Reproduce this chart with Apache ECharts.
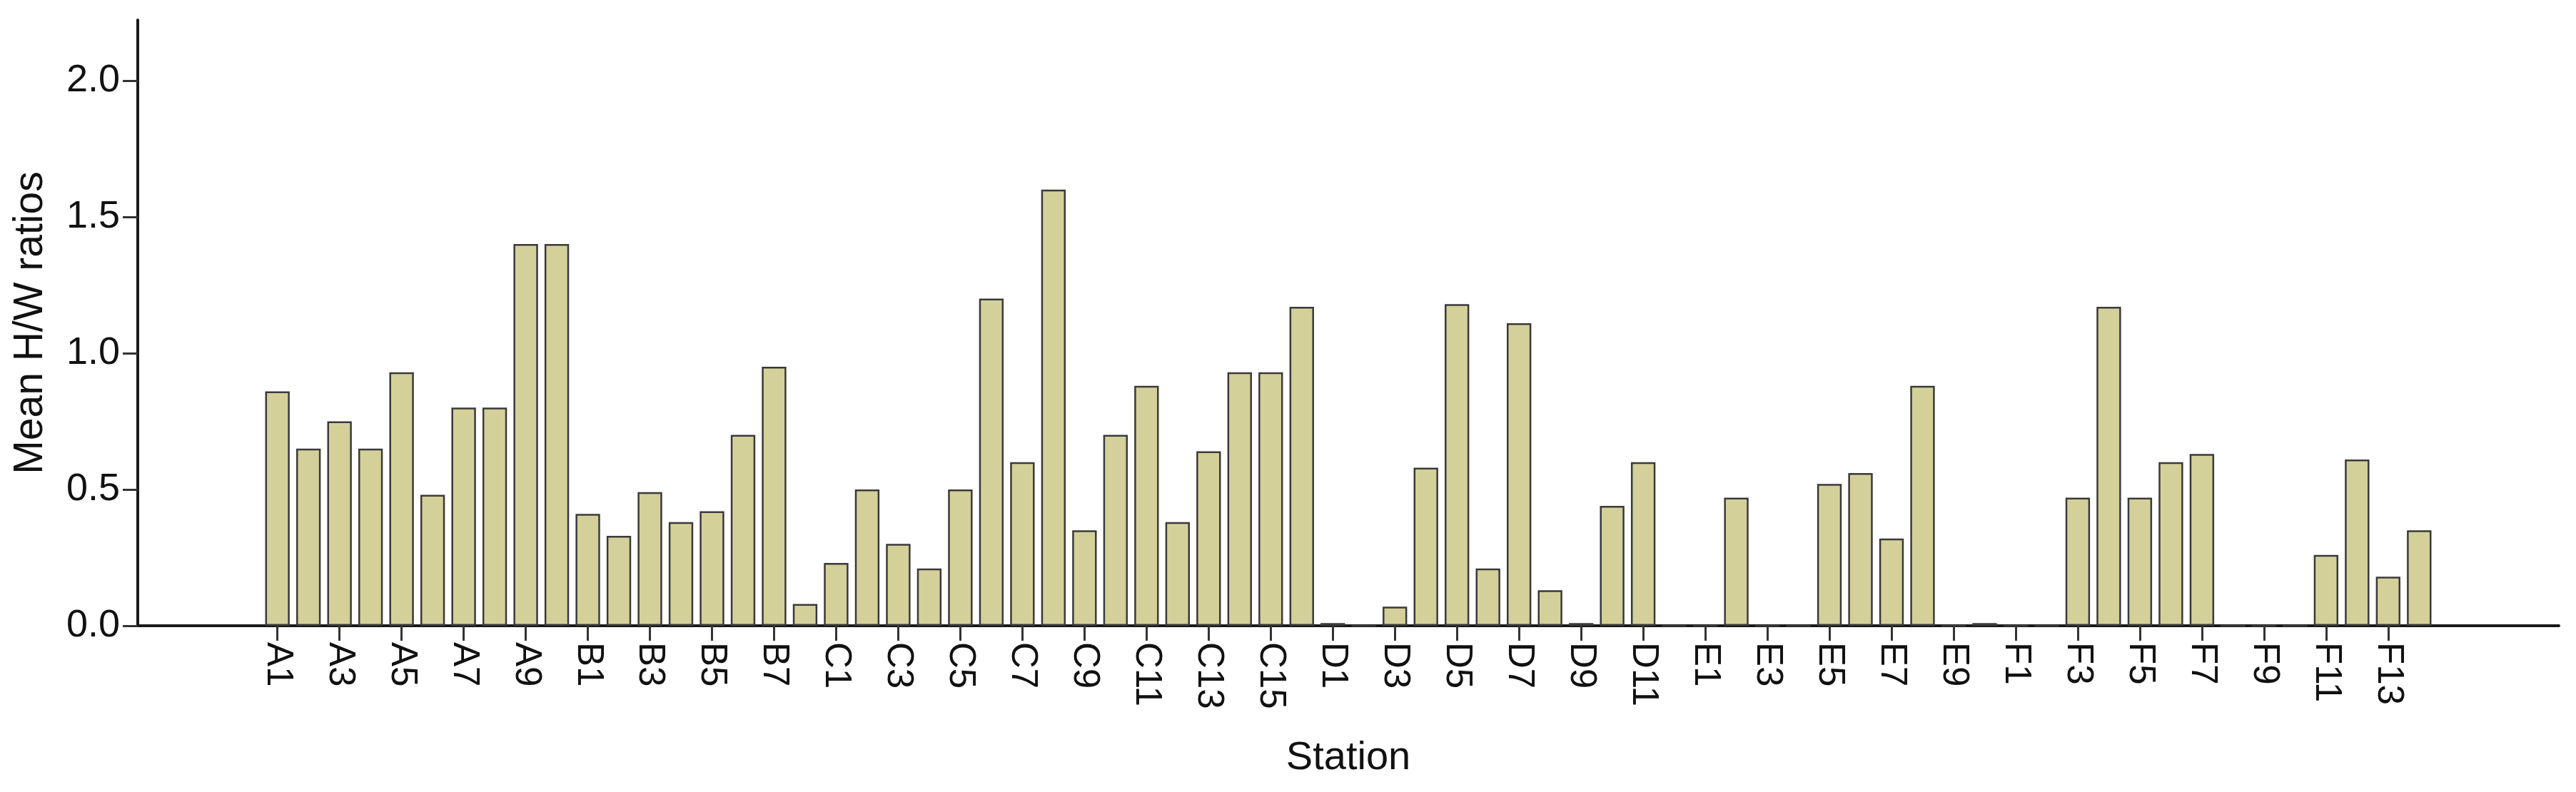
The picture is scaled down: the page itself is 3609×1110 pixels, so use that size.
<!DOCTYPE html>
<html>
<head>
<meta charset="utf-8">
<script src="https://cdn.jsdelivr.net/npm/echarts@6/dist/echarts.min.js"></script>
<style>
  html, body { margin: 0; padding: 0; background: #ffffff; }
  #chart { width: 3609px; height: 1110px; }
</style>
</head>
<body>
<div id="chart"></div>
<script>
// Station categories
const stationsA = ['A1','A2','A3','A4','A5','A6','A7','A8','A9','A10'];
const stationsB = ['B1','B2','B3','B4','B5','B6','B7','B8'];
const stationsC = ['C1','C2','C3','C4','C5','C6','C7','C8','C9','C10','C11','C12','C13','C14','C15','C16'];
const stationsD = ['D1','D2','D3','D4','D5','D6','D7','D8','D9','D10','D11','D12'];
const stationsE = ['E1','E2','E3','E4','E5','E6','E7','E8','E9','E10'];
const stationsF = ['F1','F2','F3','F4','F5','F6','F7','F8','F9','F10','F11','F12','F13','F14'];

// Mean H/W ratios per station
const valuesA = [0.86, 0.65, 0.75, 0.65, 0.93, 0.48, 0.80, 0.80, 1.40, 1.40];
const valuesB = [0.41, 0.33, 0.49, 0.38, 0.42, 0.70, 0.95, 0.08];
const valuesC = [0.23, 0.50, 0.30, 0.21, 0.50, 1.20, 0.60, 1.60, 0.35, 0.70, 0.88, 0.38, 0.64, 0.93, 0.93, 1.17];
const valuesD = [0.01, 0, 0.07, 0.58, 1.18, 0.21, 1.11, 0.13, 0.01, 0.44, 0.60, 0];
const valuesE = [0, 0.47, 0, 0, 0.52, 0.56, 0.32, 0.88, 0, 0.01];
const valuesF = [0, 0, 0.47, 1.17, 0.47, 0.60, 0.63, 0, 0, 0, 0.26, 0.61, 0.18, 0.35];

// Y axis ticks
const yTicks = [0, 0.5, 1.0, 1.5, 2.0];

const stations = [].concat(stationsA, stationsB, stationsC, stationsD, stationsE, stationsF);
const values = [].concat(valuesA, valuesB, valuesC, valuesD, valuesE, valuesF);

// empty space on both ends of the x axis (as in the original SPSS plot)
const PAD = 4;
const padL = [], padR = [];
for (let i = 0; i < PAD; i++) { padL.push('padL' + i); padR.push('padR' + i); }
const xCats = [].concat(padL, stations, padR);
const xVals = [].concat(padL.map(() => null), values, padR.map(() => null));

function showTick(index) {
  const j = index - PAD;
  return j >= 0 && j < stations.length && j % 2 === 0;
}

const FONT = '"Liberation Sans", Arial, Helvetica, sans-serif';

const chart = echarts.init(document.getElementById('chart'), null, { renderer: 'canvas' });
chart.setOption({
  animation: false,
  backgroundColor: '#ffffff',
  grid: { left: 193, right: 24, top: 28, bottom: 233, containLabel: false },
  xAxis: {
    type: 'category',
    data: xCats,
    boundaryGap: true,
    name: 'Station',
    nameLocation: 'middle',
    nameGap: 158,
    nameTextStyle: { fontFamily: FONT, fontSize: 56, color: '#111' },
    axisLine: { show: true, lineStyle: { color: '#1a1a1a', width: 4 } },
    axisTick: {
      show: true, alignWithLabel: true, length: 21,
      interval: showTick,
      lineStyle: { color: '#333', width: 3 }
    },
    axisLabel: {
      show: true, rotate: -90, margin: 23,
      interval: showTick,
      fontFamily: FONT, fontSize: 51, color: '#111'
    },
    splitLine: { show: false }
  },
  yAxis: {
    type: 'value',
    min: 0, max: 2.222,
    name: 'Mean H/W ratios',
    nameLocation: 'middle',
    nameRotate: 90,
    nameGap: 121,
    nameTextStyle: { fontFamily: FONT, fontSize: 57, color: '#111' },
    axisLine: { show: true, lineStyle: { color: '#1a1a1a', width: 4 } },
    axisTick: { show: true, length: 21, customValues: yTicks, lineStyle: { color: '#333', width: 3 } },
    axisLabel: {
      show: true, margin: 25, customValues: yTicks,
      fontFamily: FONT, fontSize: 54, color: '#111',
      padding: [14, 0, 0, 0],
      formatter: v => v.toFixed(1)
    },
    splitLine: { show: false }
  },
  series: [{
    type: 'bar',
    data: xVals,
    barCategoryGap: '21%',
    itemStyle: { color: '#D4D09A', borderColor: '#3a3a3a', borderWidth: 2.5 },
    emphasis: { disabled: true }
  }]
});
</script>
</body>
</html>
